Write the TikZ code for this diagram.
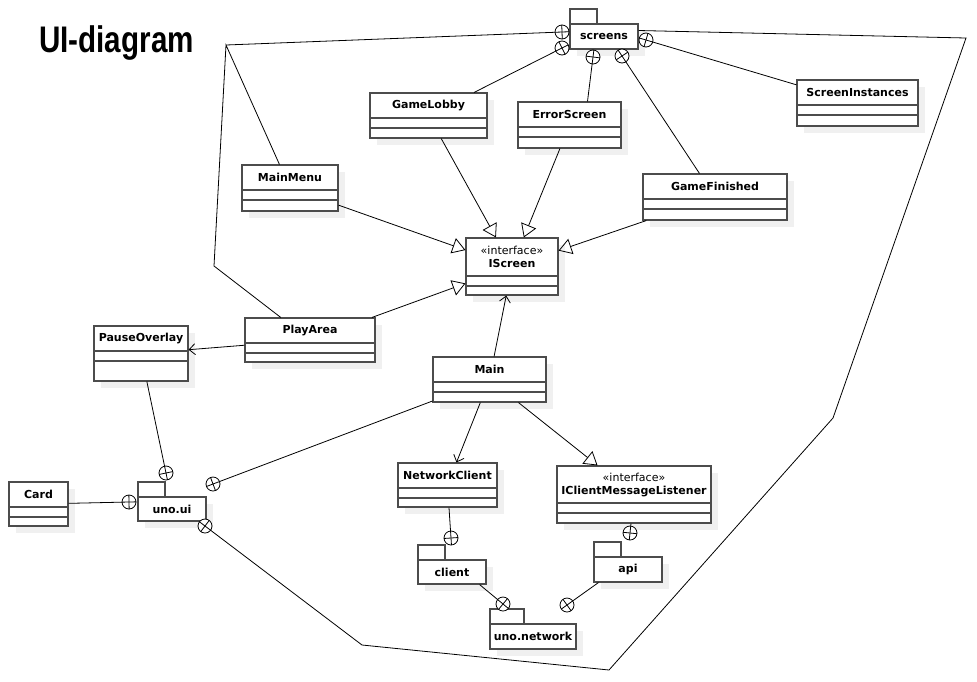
\documentclass[tikz,border=0pt]{standalone}
\usepackage{fontspec}
\setmainfont{DejaVu Sans}
\newfontfamily\titlefont[FakeStretch=0.8]{Liberation Sans}
\usetikzlibrary{arrows.meta,calc,fit}

\tikzset{
  boxline/.style={draw=black!70, line width=1.1pt},
  classbox/.style={boxline, fill=white, inner sep=0pt, rectangle},
  boxshadow/.style={fill=black!6},
  classtitle/.style={font=\fontsize{11}{13}\selectfont\bfseries, inner sep=0pt, align=center},
  conn/.style={draw=black, line width=0.8pt},
  nestcirc/.style={circle, draw=black, line width=0.8pt, fill=white, minimum size=14pt, inner sep=0pt},
  realize/.style={conn, -{Triangle[open, length=13pt, width=16pt]}},
  assoc/.style={conn, -{Straight Barb[length=6pt, width=11pt]}},
}

% class box: [title height] name, x1, y1, x2, y2, text
\newcommand\umlclass[7][25]{
  \fill[boxshadow] (#3+7,#4+7) rectangle (#5+7,#6+7);
  \node[classbox, fit={(#3,#4) (#5,#6)}] (#2) {};
  \node[classtitle] (#2-title) at ($(#3,#4)!0.5!(#5,#4+#1)$) {#7};
  \draw[boxline] (#3,#4+#1) -- (#5,#4+#1) (#3,#4+#1+10) -- (#5,#4+#1+10);
}
% package: name, x1, tab top, x2, y2, tab width, label
\newcommand\umlpackage[7]{
  \fill[boxshadow] (#2+7,#3+22) rectangle (#4+7,#5+7);
  \draw[boxline, fill=white] (#2,#3) rectangle (#2+#6,#3+15);
  \node[classbox, fit={(#2,#3+15) (#4,#5)}] (#1) {};
  \node[classtitle] (#1-label) at (#1) {#7};
}
% nesting end: name, x, y, far end
\newcommand\nest[4]{
  \node[nestcirc] (#1) at (#2,#3) {};
  \draw[conn] (#4) -- ($(#1)!-7pt!(#4)$);
  \draw[conn] ($(#1)!7pt!90:(#4)$) -- ($(#1)!7pt!-90:(#4)$);
}

\begin{document}
\begin{tikzpicture}[x=1pt, y=-1pt]
  \useasboundingbox (0,0) rectangle (977,681);

  \node[anchor=base west, inner sep=0pt, font=\titlefont\bfseries\fontsize{37}{40}\selectfont] (title) at (39,52) {UI-diagram};

  % packages
  \umlpackage{screens}{570}{9}{638}{49}{27}{screens}
  \umlpackage{unoui}{138}{482}{206}{521}{27}{uno.ui}
  \umlpackage{client}{418}{545}{486}{584}{27}{client}
  \umlpackage{api}{594}{542}{662}{582}{27}{api}
  \umlpackage{network}{490}{609}{576}{649}{34}{uno.network}

  % classes
  \umlclass{GameLobby}{370}{93}{487}{138}{GameLobby}
  \umlclass{ErrorScreen}{518}{102}{621}{148}{ErrorScreen}
  \umlclass{ScreenInstances}{797}{80}{918}{126}{ScreenInstances}
  \umlclass{MainMenu}{242}{165}{338}{211}{MainMenu}
  \umlclass{GameFinished}{643}{174}{787}{220}{GameFinished}
  \umlclass[38]{IScreen}{466}{238}{558}{295}{{\mdseries «interface»}\\IScreen}
  \umlclass{PlayArea}{245}{318}{375}{362}{PlayArea}
  \umlclass{PauseOverlay}{94}{326}{188}{381}{PauseOverlay}
  \umlclass{Main}{433}{357}{546}{402}{Main}
  \umlclass{NetworkClient}{398}{463}{497}{507}{NetworkClient}
  \umlclass[37]{Listener}{557}{466}{711}{523}{{\mdseries «interface»}\\IClientMessageListener}
  \umlclass{Card}{9}{482}{68}{526}{Card}

  % realizations and associations
  \draw[realize] (GameLobby) -- (IScreen);
  \draw[realize] (ErrorScreen) -- (IScreen);
  \draw[realize] (MainMenu) -- (IScreen);
  \draw[realize] (GameFinished) -- (IScreen);
  \draw[realize] (PlayArea) -- (IScreen);
  \draw[realize] (Main) -- (Listener);
  \draw[assoc] (Main) -- (IScreen);
  \draw[assoc] (PlayArea) -- (PauseOverlay);
  \draw[assoc] (Main) -- (NetworkClient);

  % nesting lines
  \coordinate (l1) at (226,45);
  \coordinate (l2) at (214,266);
  \coordinate (r0) at ([yshift=6pt]screens.east);
  \coordinate (r1) at (966,38);
  \coordinate (r2) at (833,418);
  \coordinate (r3) at (609,670);
  \coordinate (r4) at (362,645);
  \coordinate (errTop) at ([xshift=18pt]ErrorScreen.north);
  \coordinate (clientEnd) at ([xshift=-7pt]client.south east);
  \coordinate (apiEnd) at ([xshift=5pt]api.south west);

  \draw[conn] (MainMenu) -- (l1) -- (l2) -- (PlayArea);
  \draw[conn] (r0) -- (r1) -- (r2) -- (r3) -- (r4);

  \nest{nsTop}{562}{32}{l1}
  \nest{nsLobby}{562}{48}{GameLobby}
  \nest{nsError}{593}{57}{errTop}
  \nest{nsFinished}{622}{56}{GameFinished}
  \nest{nsInst}{646}{40}{ScreenInstances}
  \nest{nuiPause}{166}{473}{PauseOverlay}
  \nest{nuiCard}{129}{502}{Card}
  \nest{nuiMain}{213}{484}{Main}
  \nest{nuiScreens}{205}{526}{r4}
  \nest{nnc}{451}{538}{NetworkClient}
  \nest{nnetClient}{503}{604}{clientEnd}
  \nest{nnetApi}{567}{605}{apiEnd}
  \nest{napi}{630}{533}{Listener}
\end{tikzpicture}
\end{document}
